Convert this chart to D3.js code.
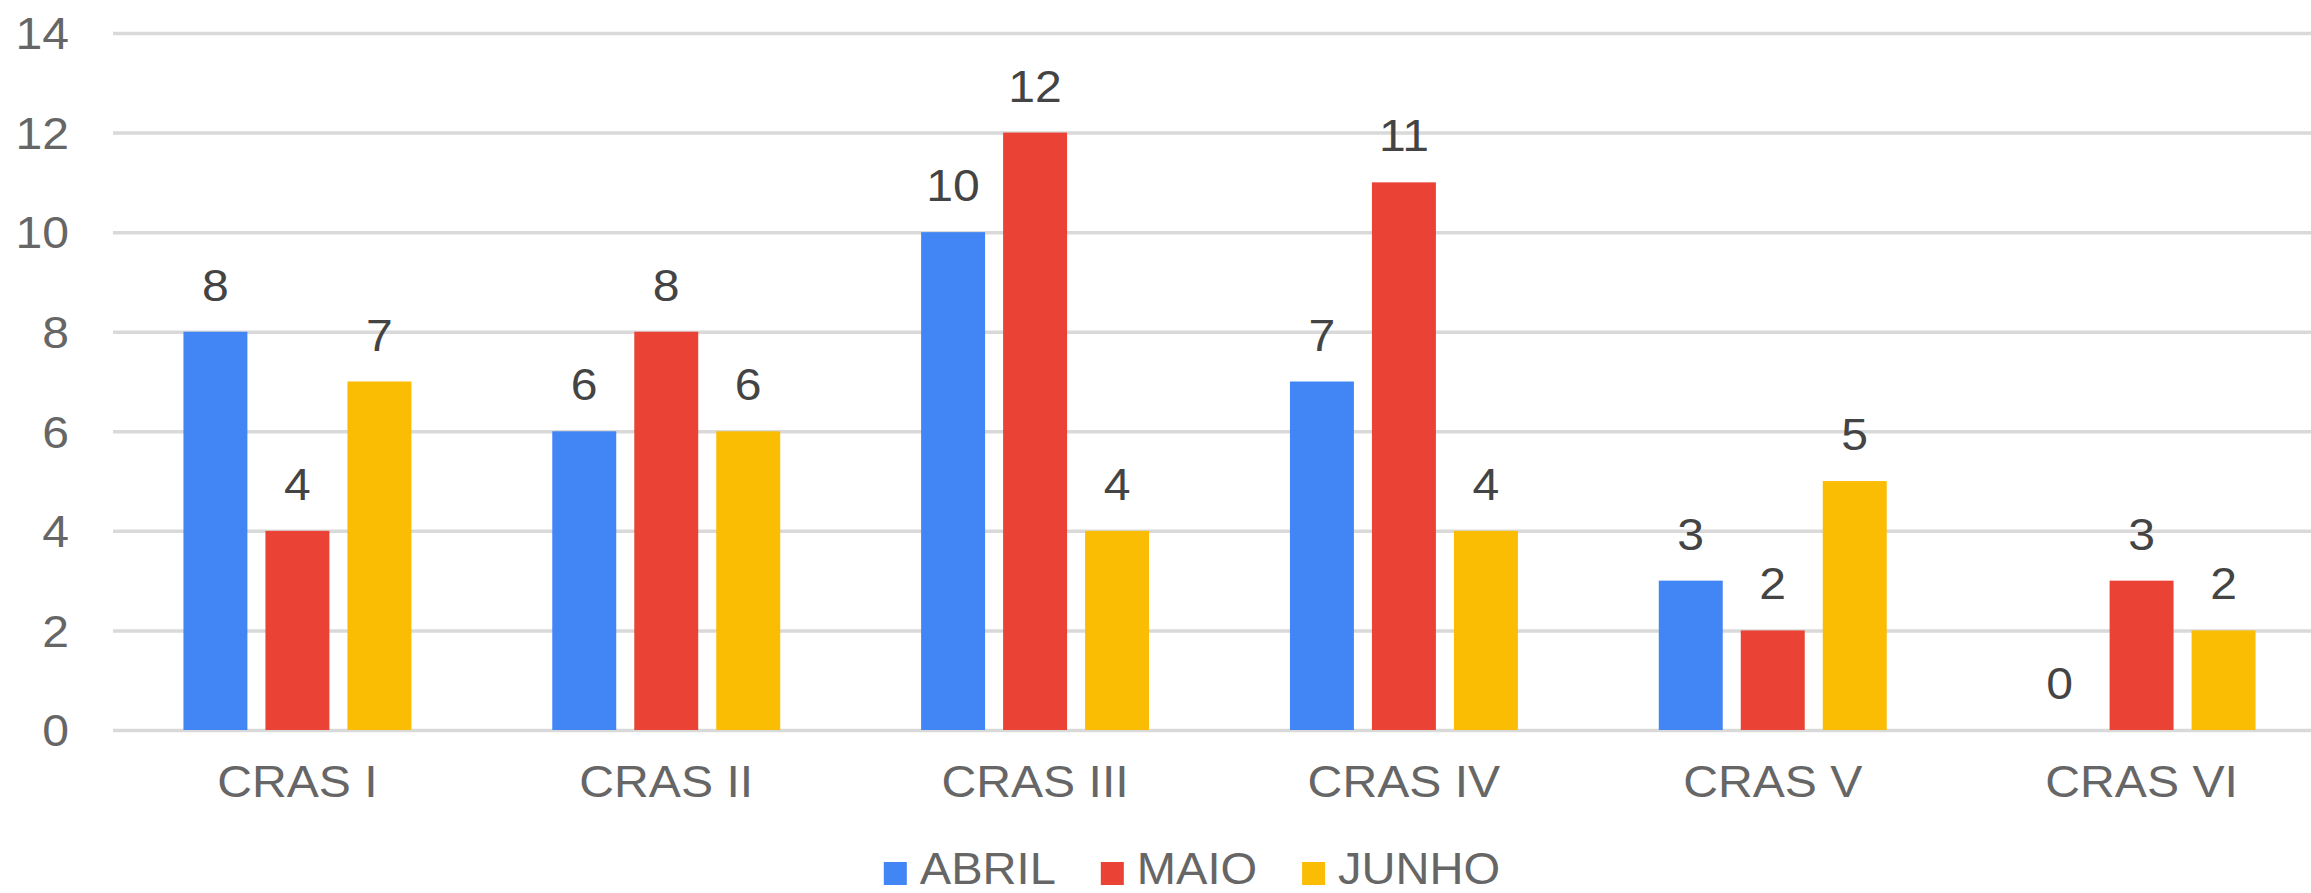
<!DOCTYPE html>
<html>
<head>
<meta charset="utf-8">
<script src="https://cdn.jsdelivr.net/npm/d3@7"></script>
<style>
	body { margin: 0; background: #fff; }
	svg { display: block; font-family: "Liberation Sans", Arial, sans-serif; }
	.grid line { stroke: #d9d9d9; stroke-width: 3.5; }
	.tick text { fill: #666; font-size: 45px; }
	.value { fill: #444; font-size: 45px; }
	.legend text { fill: #666; font-size: 44px; }
</style>
</head>
<body>
<svg></svg>
<script>
const categories = ["CRAS I", "CRAS II", "CRAS III", "CRAS IV", "CRAS V", "CRAS VI"]
const series = ["ABRIL", "MAIO", "JUNHO"]
const abril = [8, 6, 10, 7, 3, 0]
const maio = [4, 8, 12, 11, 2, 3]
const junho = [7, 6, 4, 4, 5, 2]
const yTicks = [0, 2, 4, 6, 8, 10, 12, 14]
const colors = ["#4285f4", "#ea4335", "#fbbc04"]

const values = [abril, maio, junho]
const stretch = "scale(1.07,1)" // text in the picture is a bit wide

const svg = d3.select("svg")
	.attr("width", 2311)
	.attr("height", 893)

const x0 = d3.scaleBand()
	.domain(categories)
	.range([113, 2326])
	.paddingInner(0.382)
	.paddingOuter(0.191)

const x1 = d3.scaleBand()
	.domain(series)
	.range([0, x0.bandwidth()])
	.paddingInner(0.22)

const y = d3.scaleLinear()
	.domain([0, 14])
	.range([730, 33])

const color = d3.scaleOrdinal()
	.domain(series)
	.range(colors)

// gridlines + y labels
const yAxis = svg.append("g")
	.attr("class", "grid")
	.attr("transform", "translate(113, 0)")
	.call(d3.axisLeft(y).tickValues(yTicks).tickSize(-2198).tickPadding(41).tickSizeOuter(0))

yAxis.select(".domain").remove()
yAxis.selectAll(".tick text")
	.attr("dy", "0.35em")
	.attr("transform", stretch)

// category labels
const xAxis = svg.append("g")
	.attr("transform", "translate(0, 730)")
	.call(d3.axisBottom(x0).tickSize(0).tickPadding(0))

xAxis.select(".domain").remove()
xAxis.selectAll(".tick text")
	.attr("y", 67)
	.attr("dy", 0)
	.attr("transform", stretch)

const groups = svg.selectAll("g.group")
	.data(categories)
	.enter()
	.append("g")
	.attr("class", "group")
	.attr("transform", (d) => { return `translate(${x0(d)}, 0)` })

const cells = groups.selectAll("g.cell")
	.data((d, i) => { return series.map((s, j) => { return { key: s, value: values[j][i] } }) })
	.enter()
	.append("g")
	.attr("class", "cell")

cells.append("rect")
	.attr("x", (d) => { return x1(d.key) })
	.attr("y", (d) => { return y(d.value) })
	.attr("width", x1.bandwidth())
	.attr("height", (d) => { return y(0) - y(d.value) })
	.style("fill", (d) => { return color(d.key) })

cells.append("g")
	.attr("transform", (d) => { return `translate(${x1(d.key) + x1.bandwidth() / 2}, ${y(d.value) - 31})` })
	.append("text")
	.attr("class", "value")
	.attr("text-anchor", "middle")
	.attr("transform", stretch)
	.text((d) => { return d.value })

// legend
const legend = svg.append("g")
	.attr("class", "legend")

const items = legend.selectAll("g.item")
	.data(series)
	.enter()
	.append("g")
	.attr("class", "item")

items.append("rect")
	.attr("x", 0)
	.attr("y", 862)
	.attr("width", 23)
	.attr("height", 23)
	.style("fill", (d) => { return color(d) })

items.append("g")
	.attr("transform", "translate(36, 884)")
	.append("text")
	.attr("transform", stretch)
	.text((d) => { return d })

let offset = 0
const starts = []
items.each(function (d, i) {
	const w = this.querySelector("text").getComputedTextLength() * 1.07
	starts.push(offset)
	offset += 36 + w + 45
})
const total = offset - 45
items.attr("transform", (d, i) => { return `translate(${1192 - total / 2 + starts[i]}, 0)` })
</script>
</body>
</html>
